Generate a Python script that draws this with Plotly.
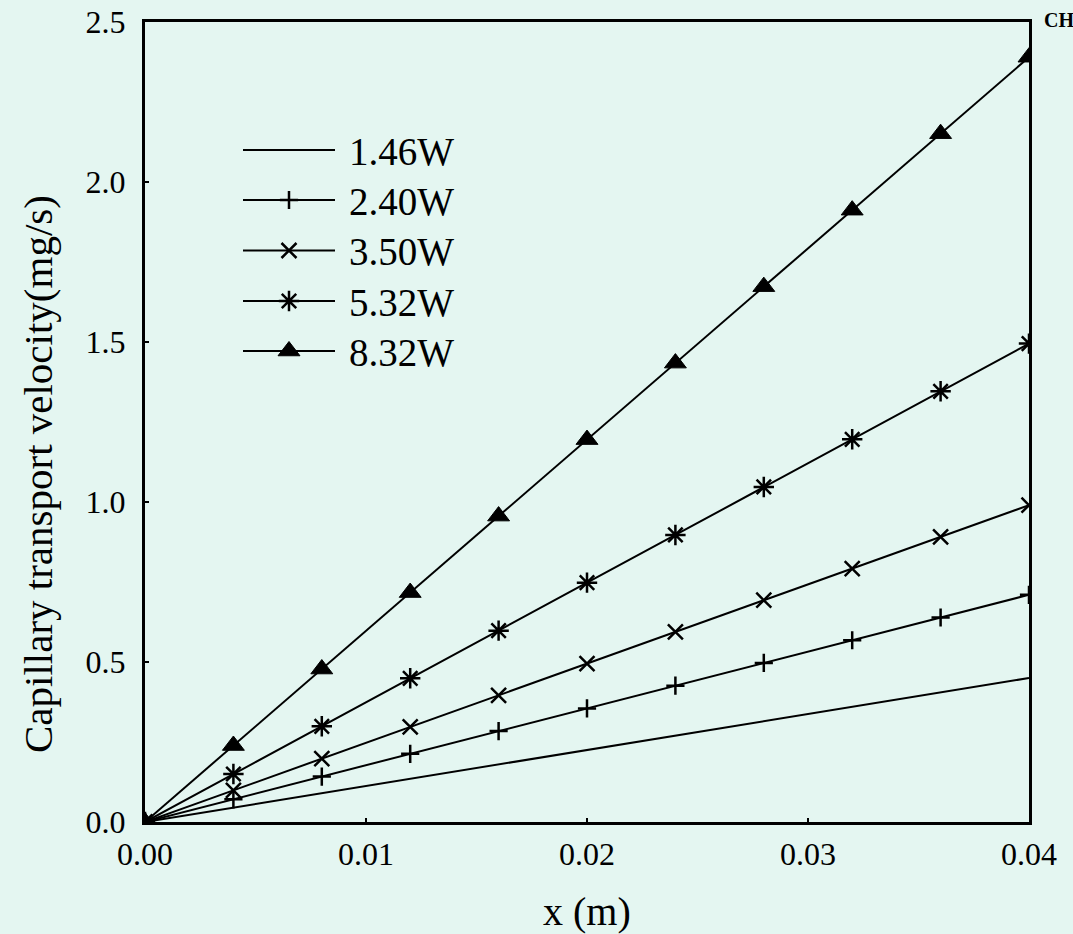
import plotly.graph_objects as go

# ---- data ----
x_vals = [0.0, 0.004, 0.008, 0.012, 0.016, 0.020, 0.024, 0.028, 0.032, 0.036, 0.040]
series_names = ["1.46W", "2.40W", "3.50W", "5.32W", "8.32W"]
v_146 = [0.0, 0.045, 0.090, 0.135, 0.180, 0.225, 0.270, 0.315, 0.360, 0.405, 0.450]
v_240 = [0.0, 0.071, 0.142, 0.213, 0.284, 0.355, 0.426, 0.497, 0.568, 0.639, 0.710]
v_350 = [0.0, 0.099, 0.198, 0.297, 0.396, 0.495, 0.594, 0.693, 0.792, 0.891, 0.990]
v_532 = [0.0, 0.150, 0.299, 0.449, 0.598, 0.748, 0.897, 1.047, 1.196, 1.346, 1.495]
v_832 = [0.0, 0.239, 0.478, 0.717, 0.956, 1.195, 1.434, 1.673, 1.912, 2.151, 2.390]
x_ticks = [0.0, 0.01, 0.02, 0.03, 0.04]
x_tick_labels = ["0.00", "0.01", "0.02", "0.03", "0.04"]
y_ticks = [0.0, 0.5, 1.0, 1.5, 2.0, 2.5]
y_tick_labels = ["0.0", "0.5", "1.0", "1.5", "2.0", "2.5"]
x_title = "x (m)"
y_title = "Capillary transport velocity(mg/s)"

all_vals = [v_146, v_240, v_350, v_532, v_832]
symbols = [None, "cross-thin", "x-thin", "asterisk", "triangle-up"]
sizes = [0, 13, 15, 17, 19]

FONT = "Liberation Serif, Times New Roman, serif"
BG = "#e4f6f1"

fig = go.Figure()

for name, vals, sym, sz in zip(series_names, all_vals, symbols, sizes):
    if sym is None:
        fig.add_trace(go.Scatter(x=x_vals, y=vals, mode="lines", name=name,
                                 line=dict(color="black", width=2), showlegend=False))
    else:
        fig.add_trace(go.Scatter(
            x=x_vals, y=vals, mode="lines+markers", name=name,
            line=dict(color="black", width=2),
            marker=dict(symbol=sym, size=sz, color="black",
                        line=dict(color="black", width=2.5 if sym != "triangle-up" else 1)),
            showlegend=False))

# ---- manual legend on an overlay pixel-like axis ----
leg_rows = [150, 200, 250.5, 301, 351]
for i, (name, sym, sz) in enumerate(zip(series_names, symbols, sizes)):
    yy = leg_rows[i]
    fig.add_trace(go.Scatter(x=[243, 335], y=[yy, yy], mode="lines", xaxis="x2", yaxis="y2",
                             line=dict(color="black", width=2), showlegend=False,
                             hoverinfo="skip", cliponaxis=False))
    if sym is not None:
        fig.add_trace(go.Scatter(
            x=[289], y=[yy], mode="markers", xaxis="x2", yaxis="y2",
            marker=dict(symbol=sym, size=sz, color="black",
                        line=dict(color="black", width=2.5 if sym != "triangle-up" else 1)),
            showlegend=False, hoverinfo="skip", cliponaxis=False))
    fig.add_annotation(x=347, y=yy + 1, xref="x2", yref="y2", text=name, showarrow=False,
                       xanchor="left", yanchor="middle",
                       font=dict(family=FONT, size=39, color="black"))

# axis titles as paper annotations
fig.add_annotation(x=0.5, y=-0.112, xref="paper", yref="paper", text=x_title, showarrow=False,
                   xanchor="center", yanchor="middle",
                   font=dict(family=FONT, size=40, color="black"))
fig.add_annotation(x=-0.121, y=0.435, xref="paper", yref="paper", text=y_title,
                   showarrow=False, textangle=-90, xanchor="center", yanchor="middle",
                   font=dict(family=FONT, size=41, color="black"))
fig.add_annotation(x=1.0145, y=1.0025, xref="paper", yref="paper", text="<b>CH</b>",
                   showarrow=False, xanchor="left", yanchor="middle",
                   font=dict(family=FONT, size=20, color="black"))

fig.update_layout(
    width=1073, height=934,
    margin=dict(l=145, r=44, t=22, b=112, autoexpand=False),
    paper_bgcolor=BG, plot_bgcolor=BG,
    showlegend=False,
    xaxis=dict(range=[0, 0.04], tickvals=x_ticks, ticktext=x_tick_labels,
               showgrid=False, zeroline=False, showline=True, linecolor="black",
               linewidth=3, mirror=True, ticks="inside", ticklen=4, tickwidth=2,
               tickcolor="black", ticklabelstandoff=2, automargin=False,
               tickfont=dict(family=FONT, size=32, color="black")),
    yaxis=dict(range=[0, 2.5], tickvals=y_ticks, ticktext=y_tick_labels,
               showgrid=False, zeroline=False, showline=True, linecolor="black",
               linewidth=3, mirror=True, ticks="inside", ticklen=4, tickwidth=2,
               tickcolor="black", ticklabelstandoff=10, automargin=False,
               tickfont=dict(family=FONT, size=32, color="black")),
    xaxis2=dict(overlaying="x", range=[145, 1029], visible=False, fixedrange=True,
                automargin=False),
    yaxis2=dict(overlaying="y", range=[822, 22], visible=False, fixedrange=True,
                automargin=False),
)

fig.write_html("out.html", config={"displayModeBar": False},
               post_script="document.body.style.margin='0px';document.body.style.overflow='hidden';")
